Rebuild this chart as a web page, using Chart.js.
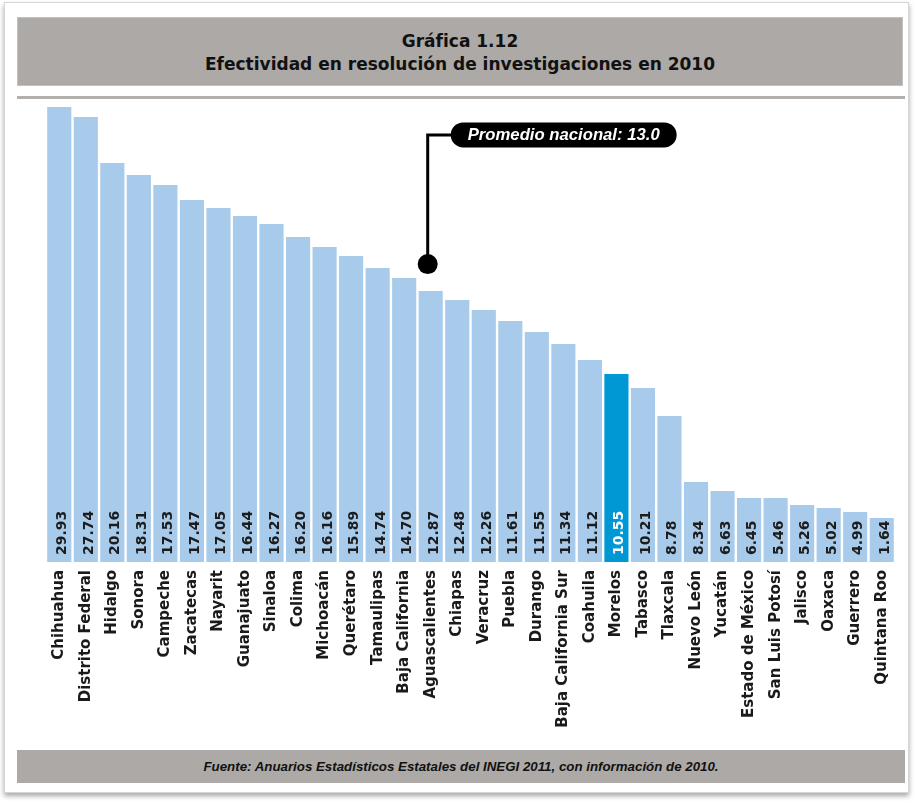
<!DOCTYPE html>
<html lang="es">
<head>
<meta charset="utf-8">
<title>Gráfica 1.12</title>
<script src="https://cdn.jsdelivr.net/npm/chart.js@4.4.1/dist/chart.umd.min.js"></script>
<style>
    body { margin: 0; background: #fff; width: 915px; height: 803px; position: relative; overflow: hidden; }
    .marco { position: absolute; left: 4px; top: 2px; width: 903px; height: 789px; background: #fff;
             border: 1px solid #d6d6d6; box-shadow: 0 3px 5px rgba(0,0,0,0.35); }
    .titulo { position: absolute; left: 17px; top: 17px; width: 886px; height: 69px; background: #aca9a7;
              border: 1px solid #c4c1bf; text-align: center; color: #111;
              font: bold 17px "DejaVu Sans", sans-serif; line-height: 23px; padding-top: 12px; box-sizing: border-box; }
    .linea { position: absolute; left: 17px; top: 96px; width: 888px; height: 3px; background: #b3b0ae; }
    .grafico { position: absolute; left: 0; top: 100px; width: 915px; height: 632px; }
    .fuente { position: absolute; left: 17px; top: 750px; width: 888px; height: 33px; background: #aca9a7;
              text-align: center; color: #111; font: italic bold 13.3px "Liberation Sans", Arial, sans-serif;
              line-height: 33px; }
</style>
</head>
<body>
<div class="marco"></div>
<div class="titulo">Gráfica 1.12<br>Efectividad en resolución de investigaciones en 2010</div>
<div class="linea"></div>
<div class="grafico"><canvas id="myChart"></canvas></div>
<div class="fuente">Fuente: Anuarios Estadísticos Estatales del INEGI 2011, con información de 2010.</div>

<script>
//datos
const estados = ['Chihuahua', 'Distrito Federal', 'Hidalgo', 'Sonora', 'Campeche', 'Zacatecas', 'Nayarit',
    'Guanajuato', 'Sinaloa', 'Colima', 'Michoacán', 'Querétaro', 'Tamaulipas', 'Baja California',
    'Aguascalientes', 'Chiapas', 'Veracruz', 'Puebla', 'Durango', 'Baja California Sur', 'Coahuila',
    'Morelos', 'Tabasco', 'Tlaxcala', 'Nuevo León', 'Yucatán', 'Estado de México', 'San Luis Potosí',
    'Jalisco', 'Oaxaca', 'Guerrero', 'Quintana Roo']

// valores impresos en cada barra
const valores = [29.93, 27.74, 20.16, 18.31, 17.53, 17.47, 17.05, 16.44, 16.27, 16.20, 16.16, 15.89,
    14.74, 14.70, 12.87, 12.48, 12.26, 11.61, 11.55, 11.34, 11.12, 10.55, 10.21, 8.78, 8.34, 6.63,
    6.45, 5.46, 5.26, 5.02, 4.99, 1.64]

// altura de las barras tal como aparecen dibujadas en la gráfica original
const alturas = [29.93, 29.27, 26.25, 25.46, 24.80, 23.81, 23.29, 22.76, 22.23, 21.38, 20.72, 20.13,
    19.34, 18.68, 17.83, 17.23, 16.58, 15.85, 15.13, 14.34, 13.29, 12.37, 11.45, 9.60, 5.26, 4.67,
    4.21, 4.21, 3.75, 3.55, 3.29, 2.89]

const destacado = 'Morelos'
const promedioNacional = 13.0
const alturaPromedio = 19.6
const alturaLeyenda = 28.1
const estadoPromedio = 'Aguascalientes'

//colores
const azulClaro = '#a8cbeb'
const azulFuerte = '#0098d4'

//etiquetas dentro de las barras + marcador del promedio
const etiquetas = {
    id: 'etiquetas',
    afterDatasetsDraw(chart) {
        const ctx = chart.ctx
        const meta = chart.getDatasetMeta(0)
        const base = chart.scales.y.getPixelForValue(0)

        ctx.save()
        ctx.font = 'bold 14px "DejaVu Sans", sans-serif'
        ctx.textAlign = 'left'
        ctx.textBaseline = 'alphabetic'
        meta.data.forEach((bar, i) => {
            ctx.save()
            ctx.translate(bar.x + 7, base - 7)
            ctx.rotate(-Math.PI / 2)
            ctx.fillStyle = estados[i] === destacado ? '#ffffff' : '#1c1c1c'
            ctx.fillText(valores[i].toFixed(2), 0, 0)
            ctx.restore()
        })

        // promedio nacional
        const x = chart.scales.x.getPixelForValue(estados.indexOf(estadoPromedio)) - 3
        const y = chart.scales.y.getPixelForValue(alturaPromedio)
        const texto = `Promedio nacional: ${promedioNacional.toFixed(1)}`
        ctx.font = 'italic bold 16.7px "Liberation Sans", Arial, sans-serif'
        const ancho = ctx.measureText(texto).width + 34
        const px = x + 23
        const py = chart.scales.y.getPixelForValue(alturaLeyenda)
        const alto = 25

        ctx.strokeStyle = '#000'
        ctx.lineWidth = 3
        ctx.beginPath()
        ctx.moveTo(px + 2, py)
        ctx.lineTo(x, py)
        ctx.lineTo(x, y)
        ctx.stroke()

        ctx.fillStyle = '#000'
        ctx.beginPath()
        ctx.arc(x, y, 10, 0, Math.PI * 2)
        ctx.fill()

        ctx.beginPath()
        ctx.roundRect(px, py - alto / 2, ancho, alto, alto / 2)
        ctx.fill()

        ctx.fillStyle = '#fff'
        ctx.textAlign = 'center'
        ctx.textBaseline = 'middle'
        ctx.fillText(texto, px + ancho / 2, py + 1)
        ctx.restore()
    }
}

const data = {
    labels: estados,
    datasets: [{
        label: 'Efectividad',
        data: alturas,
        backgroundColor: estados.map(e => e === destacado ? azulFuerte : azulClaro),
        borderWidth: 0,
        categoryPercentage: 1,
        barPercentage: 0.91
    }]
}

const config = {
    type: 'bar',
    data: data,
    options: {
        responsive: true,
        maintainAspectRatio: false,
        animation: false,
        layout: { padding: { left: 46, right: 20, top: 6, bottom: 0 } },
        plugins: {
            legend: { display: false },
            tooltip: { enabled: false }
        },
        scales: {
            x: {
                grid: { display: false, drawTicks: false },
                border: { display: false },
                ticks: {
                    autoSkip: false,
                    minRotation: 90,
                    maxRotation: 90,
                    padding: 8,
                    color: '#1a1a1a',
                    font: { family: '"DejaVu Sans", sans-serif', size: 15, weight: 'bold' }
                },
                afterFit: (axis) => { axis.height = 170 }
            },
            y: {
                display: false,
                min: 0,
                max: 30
            }
        }
    },
    plugins: [etiquetas]
}

const myChart = new Chart(document.getElementById('myChart'), config)
</script>
</body>
</html>
